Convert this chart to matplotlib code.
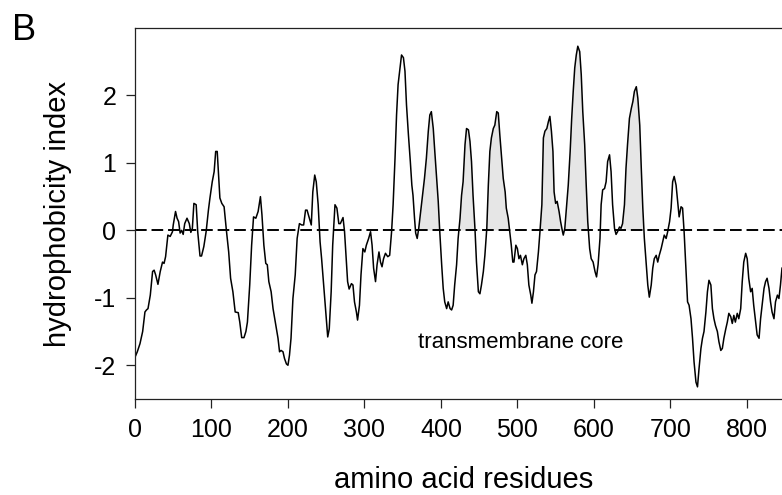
import numpy as np
import matplotlib.pyplot as plt
from matplotlib import font_manager

# hydrophobicity profile
residue = [0, 3, 6.5, 10, 13, 15, 17, 20, 23, 25, 27, 30, 33, 36, 38, 40, 43, 46, 49, 50,
           53, 55, 57, 59, 61, 63, 65, 68, 71, 73, 75, 77, 80, 82, 85, 87, 90, 93, 96, 98,
           101, 103.5, 105.5, 107.5, 109, 111, 113.5, 116.5, 119.5, 122.5, 125, 128, 131, 135, 137, 139.5, 142.5, 145, 147, 150,
           152.5, 155, 158, 161, 164, 166, 168.5, 171, 173, 175, 178, 180.5, 183.5, 187, 189, 191, 193.5, 195.5, 198, 200,
           202, 204, 206.5, 209.5, 212, 215, 218, 220.5, 223, 225, 228, 230.5, 232.5, 235, 237, 239.5, 242, 244, 247, 250,
           252, 254, 256.5, 258.5, 261.5, 264, 266.5, 268.5, 272, 274, 276.5, 278, 280, 283, 285, 287, 289.5, 291, 293.5, 295.5,
           298, 300.5, 302.5, 305.5, 308, 310, 312, 314.5, 316.5, 319, 321, 323, 325, 327.5, 330.5, 333, 335.5, 337.5, 340, 342,
           344, 346.5, 348.5, 351, 353, 355, 357.5, 360, 362, 363.5, 365.5, 367, 369, 371, 373.5, 376, 378.5, 381, 383.5, 385.5,
           387.5, 390, 392, 394.5, 396.5, 398.5, 401, 403, 405, 407.5, 409.5, 412, 414, 416, 418, 420.5, 422.5, 425, 427, 429,
           431.5, 433.5, 436, 438, 440, 442, 444.5, 446.5, 449, 451, 453, 455.5, 457.5, 460, 462, 464, 466, 468.5, 470.5, 473,
           475, 477, 479.5, 481.5, 484, 485.5, 488, 490, 492, 494, 495.5, 498, 500, 502, 504, 506.5, 508.5, 511, 513, 515,
           517.5, 519, 521, 523, 525, 527.5, 529.5, 532, 534, 536, 538.5, 540.5, 542.5, 544.5, 546.5, 548, 550, 552, 554.5, 556.5,
           559, 560, 562, 564.5, 566.5, 569, 571, 573, 575, 577, 579, 581.5, 583.5, 585.5, 588, 590, 592, 594.5, 596.5, 599,
           601.5, 603.5, 605.5, 608, 609.5, 611.5, 614, 616, 618, 620.5, 622.5, 624.5, 627, 629, 631, 633.5, 635.5, 637.5, 640, 642,
           644, 646.5, 649, 651, 653, 655.5, 657.5, 660, 662, 664, 666, 668.5, 670.5, 672.5, 675, 677, 679, 681.5, 683.5, 685.5,
           688, 690, 692, 694.5, 696.5, 699, 701, 703, 705, 707.5, 709.5, 711.5, 714, 716, 718, 720.5, 722.5, 724.5, 727, 729,
           731, 733.5, 735.5, 737.5, 740, 742, 744, 746.5, 748.5, 750.5, 753, 755, 757, 759, 761.5, 763.5, 766, 768, 770, 772.5,
           774.5, 776.5, 779, 781, 783, 785, 787.5, 789.5, 792, 794, 796, 798.5, 800.5, 802.5, 805, 807, 809, 811.5, 813.5, 816,
           818, 820, 822.5, 824.5, 826.5, 829, 831, 833, 835.5, 837.5, 840, 842, 844, 846]
hydro = [-1.88, -1.80, -1.68, -1.50, -1.21, -1.18, -1.16, -0.96, -0.61, -0.59, -0.66, -0.80, -0.61, -0.47, -0.49, -0.39, -0.07, -0.09, -0.02, 0.08,
         0.28, 0.18, 0.13, -0.04, 0.0, -0.06, 0.10, 0.18, 0.10, -0.03, 0.03, 0.40, 0.38, -0.02, -0.38, -0.38, -0.24, -0.02, 0.30, 0.48,
         0.72, 0.87, 1.17, 1.17, 0.87, 0.48, 0.40, 0.35, 0.0, -0.32, -0.71, -0.91, -1.21, -1.22, -1.36, -1.59, -1.59, -1.50, -1.36, -0.81,
         -0.22, 0.20, 0.18, 0.28, 0.50, 0.23, -0.22, -0.49, -0.51, -0.76, -0.91, -1.16, -1.36, -1.60, -1.80, -1.78, -1.80, -1.90, -1.98, -2.0,
         -1.85, -1.60, -1.01, -0.66, -0.12, 0.10, 0.08, 0.08, 0.30, 0.30, 0.18, 0.08, 0.57, 0.82, 0.72, 0.38, -0.17, -0.42, -0.86, -1.31,
         -1.58, -1.46, -0.91, -0.22, 0.38, 0.33, 0.10, 0.10, 0.19, -0.02, -0.47, -0.76, -0.87, -0.79, -0.81, -1.06, -1.21, -1.33, -1.11, -0.66,
         -0.27, -0.32, -0.22, -0.12, -0.02, -0.22, -0.56, -0.76, -0.51, -0.32, -0.47, -0.54, -0.42, -0.34, -0.39, -0.37, -0.02, 0.38, 1.07, 1.71,
         2.16, 2.41, 2.60, 2.56, 2.36, 1.86, 1.42, 1.02, 0.67, 0.52, 0.18, -0.04, -0.12, 0.03, 0.28, 0.52, 0.77, 1.07, 1.47, 1.71,
         1.76, 1.51, 1.17, 0.77, 0.43, -0.02, -0.51, -0.86, -1.06, -1.16, -1.06, -1.16, -1.18, -1.11, -0.81, -0.51, -0.12, 0.18, 0.52, 0.72,
         1.27, 1.51, 1.49, 1.32, 1.02, 0.52, 0.03, -0.47, -0.91, -0.94, -0.81, -0.61, -0.37, 0.03, 0.67, 1.17, 1.37, 1.51, 1.56, 1.76,
         1.74, 1.42, 1.07, 0.77, 0.57, 0.33, 0.18, -0.02, -0.22, -0.47, -0.47, -0.22, -0.27, -0.42, -0.37, -0.51, -0.42, -0.37, -0.51, -0.81,
         -0.96, -1.08, -0.91, -0.66, -0.61, -0.32, -0.02, 0.38, 1.37, 1.47, 1.51, 1.61, 1.69, 1.47, 1.17, 0.57, 0.40, 0.43, 0.28, 0.13,
         -0.02, -0.07, 0.03, 0.38, 0.67, 1.17, 1.66, 2.06, 2.41, 2.60, 2.73, 2.65, 2.31, 1.76, 1.27, 0.67, 0.13, -0.27, -0.42, -0.47,
         -0.61, -0.69, -0.51, -0.12, 0.38, 0.60, 0.62, 0.72, 1.02, 1.12, 0.87, 0.38, 0.03, -0.06, -0.02, 0.05, 0.03, 0.10, 0.38, 0.92,
         1.27, 1.66, 1.81, 1.91, 2.06, 2.13, 1.96, 1.56, 0.92, 0.33, -0.12, -0.51, -0.81, -0.99, -0.81, -0.56, -0.42, -0.37, -0.47, -0.37,
         -0.27, -0.17, -0.07, -0.12, -0.02, 0.13, 0.33, 0.72, 0.80, 0.67, 0.43, 0.20, 0.35, 0.33, -0.02, -0.61, -1.06, -1.11, -1.31, -1.60,
         -1.95, -2.25, -2.32, -2.05, -1.75, -1.60, -1.50, -1.21, -0.91, -0.74, -0.81, -1.16, -1.31, -1.41, -1.50, -1.65, -1.78, -1.75, -1.60, -1.46,
         -1.36, -1.23, -1.28, -1.38, -1.26, -1.36, -1.23, -1.31, -1.16, -0.76, -0.47, -0.34, -0.42, -0.71, -0.91, -0.86, -1.11, -1.36, -1.55, -1.60,
         -1.31, -1.11, -0.86, -0.76, -0.71, -0.86, -1.06, -1.21, -1.31, -1.06, -0.96, -1.01, -0.81, -0.56]

# transmembrane segments (shaded peaks)
tm_start = [367, 423, 459, 529, 561, 638]
tm_end = [400, 445, 491, 560, 594, 667]

residue = np.array(residue)
hydro = np.array(hydro)

names = {f.name for f in font_manager.fontManager.ttflist}
tick_font = 'Liberation Sans Narrow' if 'Liberation Sans Narrow' in names else 'Liberation Sans'
tick_size = 21 if tick_font == 'Liberation Sans Narrow' else 18
plt.rcParams['font.family'] = ['Liberation Sans', 'DejaVu Sans']
plt.rcParams['axes.unicode_minus'] = False

fig = plt.figure(figsize=(7.82, 4.95), dpi=100)
ax = fig.add_axes([135/782, 96/495, 647/782, 371/495])

in_tm = np.zeros(len(residue), dtype=bool)
for s, e in zip(tm_start, tm_end):
    in_tm |= (residue >= s) & (residue <= e)
ax.fill_between(residue, hydro, 0, where=in_tm & (hydro > 0), interpolate=True,
                color='#e6e6e6', lw=0)
ax.axhline(0, color='black', lw=1.4, ls=(0, (6, 2.5)))
ax.plot(residue, hydro, color='black', lw=1.1)

ax.set_xlim(0, 846)
ax.set_ylim(-2.5, 3)
ax.set_xticks(range(0, 900, 100))
ax.set_yticks([-2, -1, 0, 1, 2])
ax.spines['right'].set_visible(False)
for sp in ['left', 'bottom', 'top']:
    ax.spines[sp].set_linewidth(0.9)
    ax.spines[sp].set_color('#222222')
ax.tick_params(direction='out', length=6.5, width=0.9, color='#222222', pad=7)
for lab in ax.get_xticklabels() + ax.get_yticklabels():
    lab.set_fontfamily(tick_font)
    lab.set_fontsize(tick_size)

ax.set_xlabel('amino acid residues', fontsize=21, va='baseline')
ax.xaxis.set_label_coords(0.508, -89/371)
ax.set_ylabel('hydrophobicity index', fontsize=21)
ax.yaxis.set_label_coords(-0.097, 0.5)

ax.text(370, -1.75, 'transmembrane core', fontsize=16, ha='left', va='baseline')
fig.text(12/782, 1 - 40/495, 'B', fontsize=26, va='baseline')

fig.savefig('out.png', dpi=100)
